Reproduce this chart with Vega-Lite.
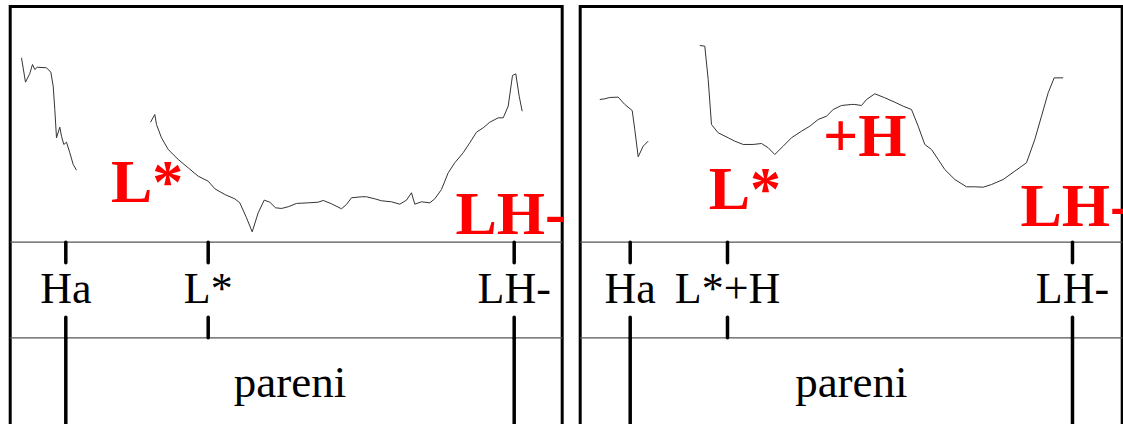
{
  "$schema": "https://vega.github.io/schema/vega-lite/v6.json",
  "background": "white",
  "padding": {"left": 7.2, "top": 4.5, "right": 0, "bottom": 0},
  "spacing": 18,
  "bounds": "flush",
  "config": {
    "view": {"stroke": "black", "strokeWidth": 3}
  },
  "datasets": {
    "pitchL": [
      {"t": 22.6, "f0": 284.7, "seg": 1}, {"t": 30.6, "f0": 253.7, "seg": 1}, {"t": 39.2, "f0": 264.7, "seg": 1},
      {"t": 44.6, "f0": 276.2, "seg": 1}, {"t": 49.2, "f0": 269.8, "seg": 1}, {"t": 54.0, "f0": 272.7, "seg": 1},
      {"t": 72.6, "f0": 272.0, "seg": 1}, {"t": 81.2, "f0": 266.4, "seg": 1}, {"t": 86.0, "f0": 248.6, "seg": 1},
      {"t": 89.2, "f0": 218.9, "seg": 1}, {"t": 92.6, "f0": 182.9, "seg": 1}, {"t": 99.2, "f0": 196.4, "seg": 1},
      {"t": 102.6, "f0": 184.9, "seg": 1}, {"t": 107.2, "f0": 174.4, "seg": 1}, {"t": 112.6, "f0": 177.3, "seg": 1},
      {"t": 119.2, "f0": 163.8, "seg": 1}, {"t": 126.0, "f0": 148.9, "seg": 1}, {"t": 132.6, "f0": 141.6, "seg": 1},
      {"t": 280.6, "f0": 202.7, "seg": 2}, {"t": 289.2, "f0": 212.5, "seg": 2}, {"t": 292.6, "f0": 199.8, "seg": 2},
      {"t": 302.6, "f0": 182.9, "seg": 2}, {"t": 316.0, "f0": 168.0, "seg": 2}, {"t": 336.0, "f0": 155.3, "seg": 2},
      {"t": 356.0, "f0": 144.7, "seg": 2}, {"t": 376.0, "f0": 134.0, "seg": 2}, {"t": 396.0, "f0": 127.6, "seg": 2},
      {"t": 409.2, "f0": 118.0, "seg": 2}, {"t": 429.2, "f0": 110.7, "seg": 2}, {"t": 449.2, "f0": 105.2, "seg": 2},
      {"t": 459.2, "f0": 100.1, "seg": 2}, {"t": 472.6, "f0": 81.1, "seg": 2}, {"t": 484.0, "f0": 63.2, "seg": 2},
      {"t": 496.0, "f0": 87.4, "seg": 2}, {"t": 508.0, "f0": 103.5, "seg": 2}, {"t": 519.2, "f0": 100.9, "seg": 2},
      {"t": 530.6, "f0": 93.8, "seg": 2}, {"t": 542.6, "f0": 92.9, "seg": 2}, {"t": 556.0, "f0": 95.1, "seg": 2},
      {"t": 572.6, "f0": 99.3, "seg": 2}, {"t": 596.0, "f0": 100.1, "seg": 2}, {"t": 616.0, "f0": 100.9, "seg": 2},
      {"t": 626.0, "f0": 103.1, "seg": 2}, {"t": 642.6, "f0": 98.9, "seg": 2}, {"t": 662.6, "f0": 92.5, "seg": 2},
      {"t": 672.6, "f0": 98.0, "seg": 2}, {"t": 682.6, "f0": 106.5, "seg": 2}, {"t": 702.6, "f0": 107.8, "seg": 2},
      {"t": 712.6, "f0": 107.8, "seg": 2}, {"t": 729.2, "f0": 105.2, "seg": 2}, {"t": 742.6, "f0": 102.7, "seg": 2},
      {"t": 762.6, "f0": 101.4, "seg": 2}, {"t": 779.2, "f0": 98.4, "seg": 2}, {"t": 792.6, "f0": 103.5, "seg": 2},
      {"t": 802.6, "f0": 112.9, "seg": 2}, {"t": 809.2, "f0": 98.4, "seg": 2}, {"t": 822.6, "f0": 101.4, "seg": 2},
      {"t": 839.2, "f0": 100.1, "seg": 2}, {"t": 849.2, "f0": 105.2, "seg": 2}, {"t": 862.6, "f0": 117.1, "seg": 2},
      {"t": 876.0, "f0": 138.3, "seg": 2}, {"t": 889.2, "f0": 151.1, "seg": 2}, {"t": 906.0, "f0": 163.8, "seg": 2},
      {"t": 919.2, "f0": 176.5, "seg": 2}, {"t": 932.6, "f0": 190.0, "seg": 2}, {"t": 946.0, "f0": 195.6, "seg": 2},
      {"t": 959.2, "f0": 202.7, "seg": 2}, {"t": 976.0, "f0": 208.3, "seg": 2}, {"t": 986.0, "f0": 208.3, "seg": 2},
      {"t": 996.0, "f0": 223.1, "seg": 2}, {"t": 1004.6, "f0": 262.2, "seg": 2}, {"t": 1011.2, "f0": 264.3, "seg": 2},
      {"t": 1018.0, "f0": 235.8, "seg": 2}, {"t": 1024.0, "f0": 216.7, "seg": 2}
    ],
    "pitchR": [
      {"t": 39.2, "f0": 231.6, "seg": 1}, {"t": 49.2, "f0": 232.5, "seg": 1}, {"t": 59.2, "f0": 234.2, "seg": 1},
      {"t": 76.0, "f0": 234.6, "seg": 1}, {"t": 89.2, "f0": 225.3, "seg": 1}, {"t": 104.0, "f0": 217.6, "seg": 1},
      {"t": 109.2, "f0": 193.4, "seg": 1}, {"t": 116.0, "f0": 158.7, "seg": 1}, {"t": 126.0, "f0": 172.2, "seg": 1},
      {"t": 136.0, "f0": 178.6, "seg": 1},
      {"t": 239.2, "f0": 300.4, "seg": 2}, {"t": 249.2, "f0": 299.5, "seg": 2}, {"t": 256.0, "f0": 257.1, "seg": 2},
      {"t": 262.6, "f0": 199.8, "seg": 2}, {"t": 276.0, "f0": 189.2, "seg": 2}, {"t": 296.0, "f0": 182.9, "seg": 2},
      {"t": 309.2, "f0": 178.6, "seg": 2}, {"t": 326.0, "f0": 174.4, "seg": 2}, {"t": 346.0, "f0": 174.4, "seg": 2},
      {"t": 362.6, "f0": 175.6, "seg": 2}, {"t": 376.0, "f0": 170.2, "seg": 2}, {"t": 389.2, "f0": 161.6, "seg": 2},
      {"t": 406.0, "f0": 172.2, "seg": 2}, {"t": 422.6, "f0": 182.9, "seg": 2}, {"t": 442.6, "f0": 191.3, "seg": 2},
      {"t": 459.2, "f0": 197.6, "seg": 2}, {"t": 476.0, "f0": 206.2, "seg": 2}, {"t": 492.6, "f0": 210.4, "seg": 2},
      {"t": 506.0, "f0": 218.9, "seg": 2}, {"t": 522.6, "f0": 224.0, "seg": 2}, {"t": 542.6, "f0": 225.3, "seg": 2},
      {"t": 549.2, "f0": 225.3, "seg": 2}, {"t": 562.6, "f0": 224.0, "seg": 2}, {"t": 572.6, "f0": 231.6, "seg": 2},
      {"t": 589.2, "f0": 238.9, "seg": 2}, {"t": 609.2, "f0": 233.8, "seg": 2}, {"t": 629.2, "f0": 228.2, "seg": 2},
      {"t": 646.0, "f0": 223.1, "seg": 2}, {"t": 662.6, "f0": 218.9, "seg": 2}, {"t": 676.0, "f0": 197.6, "seg": 2},
      {"t": 689.2, "f0": 174.4, "seg": 2}, {"t": 702.6, "f0": 168.0, "seg": 2}, {"t": 716.0, "f0": 155.3, "seg": 2},
      {"t": 729.2, "f0": 142.5, "seg": 2}, {"t": 749.2, "f0": 129.8, "seg": 2}, {"t": 772.6, "f0": 120.5, "seg": 2},
      {"t": 789.2, "f0": 120.5, "seg": 2}, {"t": 806.0, "f0": 120.0, "seg": 2}, {"t": 822.6, "f0": 123.4, "seg": 2},
      {"t": 846.0, "f0": 129.8, "seg": 2}, {"t": 869.2, "f0": 140.4, "seg": 2}, {"t": 892.6, "f0": 151.1, "seg": 2},
      {"t": 909.2, "f0": 180.7, "seg": 2}, {"t": 922.6, "f0": 210.4, "seg": 2}, {"t": 936.0, "f0": 240.2, "seg": 2},
      {"t": 948.0, "f0": 259.2, "seg": 2}, {"t": 966.0, "f0": 259.2, "seg": 2}
    ],
    "tierLines": [{"tier": "tones", "bottom": 50}, {"tier": "words", "bottom": -71.7}],
    "tonesL": [
      {"t": 111.2, "label": "Ha", "boundary": true},
      {"t": 396.0, "label": "L*", "boundary": false},
      {"t": 1008.0, "label": "LH-", "boundary": true}
    ],
    "tonesR": [
      {"t": 100.0, "label": "Ha", "boundary": true},
      {"t": 294.6, "label": "L*+H", "boundary": false},
      {"t": 984.6, "label": "LH-", "boundary": true}
    ],
    "wordsL": [{"t": 559.6, "label": "pareni"}],
    "wordsR": [{"t": 542.3, "label": "pareni"}],
    "accentsL": [
      {"t": 201.6, "f0": 100.9, "label": "L*"},
      {"t": 890.6, "f0": 59.8, "label": "LH-"}
    ],
    "accentsR": [
      {"t": 257.0, "f0": 92.5, "label": "L*"},
      {"t": 485.6, "f0": 159.5, "label": "+H"},
      {"t": 880.6, "f0": 70.4, "label": "LH-"}
    ]
  },
  "hconcat": [
    {
      "width": 552,
      "height": 428,
      "layer": [
        {
          "data": {"name": "pitchL"},
          "mark": {"type": "line", "color": "#333333", "strokeWidth": 1},
          "encoding": {
            "x": {"field": "t", "type": "quantitative", "axis": null,
                  "scale": {"domain": [0, 1104], "nice": false, "zero": false}},
            "y": {"field": "f0", "type": "quantitative", "axis": null,
                  "scale": {"domain": [-194.8, 350], "nice": false, "zero": false}},
            "detail": {"field": "seg", "type": "nominal"}
          }
        },
        {
          "data": {"name": "tierLines"},
          "mark": {"type": "rule", "color": "#555555", "strokeWidth": 1.3},
          "encoding": {
            "y": {"field": "bottom", "type": "quantitative"}
          }
        },
        {
          "data": {"name": "tonesL"},
          "mark": {"type": "rule", "color": "black", "strokeWidth": 3.5, "strokeCap": "round"},
          "encoding": {
            "x": {"field": "t", "type": "quantitative"},
            "y": {"datum": 50, "type": "quantitative"},
            "y2": {"datum": 23.8}
          }
        },
        {
          "data": {"name": "tonesL"},
          "mark": {"type": "rule", "color": "black", "strokeWidth": 3.5, "strokeCap": "round"},
          "encoding": {
            "x": {"field": "t", "type": "quantitative"},
            "y": {"datum": -45.5, "type": "quantitative"},
            "y2": {"datum": -71.7}
          }
        },
        {
          "data": {"name": "tonesL"},
          "transform": [{"filter": "datum.boundary"}],
          "mark": {"type": "rule", "color": "black", "strokeWidth": 3.5},
          "encoding": {
            "x": {"field": "t", "type": "quantitative"},
            "y": {"datum": -71.7, "type": "quantitative"},
            "y2": {"datum": -194.8}
          }
        },
        {
          "data": {"name": "tonesL"},
          "mark": {"type": "text", "font": "Liberation Serif", "fontSize": 44, "align": "center", "baseline": "alphabetic", "color": "black"},
          "encoding": {
            "x": {"field": "t", "type": "quantitative"},
            "y": {"datum": -27.1, "type": "quantitative"},
            "text": {"field": "label"}
          }
        },
        {
          "data": {"name": "wordsL"},
          "mark": {"type": "text", "font": "Liberation Serif", "fontSize": 45, "align": "center", "baseline": "alphabetic", "color": "black"},
          "encoding": {
            "x": {"field": "t", "type": "quantitative"},
            "y": {"datum": -147.6, "type": "quantitative"},
            "text": {"field": "label"}
          }
        },
        {
          "data": {"name": "accentsL"},
          "mark": {"type": "text", "font": "Liberation Serif", "fontSize": 62, "fontWeight": "bold", "align": "left", "baseline": "alphabetic", "color": "#ff0000"},
          "encoding": {
            "x": {"field": "t", "type": "quantitative"},
            "y": {"field": "f0", "type": "quantitative"},
            "text": {"field": "label"}
          }
        }
      ]
    },
    {
      "width": 542,
      "height": 428,
      "layer": [
        {
          "data": {"name": "pitchR"},
          "mark": {"type": "line", "color": "#333333", "strokeWidth": 1},
          "encoding": {
            "x": {"field": "t", "type": "quantitative", "axis": null,
                  "scale": {"domain": [0, 1084], "nice": false, "zero": false}},
            "y": {"field": "f0", "type": "quantitative", "axis": null,
                  "scale": {"domain": [-194.8, 350], "nice": false, "zero": false}},
            "detail": {"field": "seg", "type": "nominal"}
          }
        },
        {
          "data": {"name": "tierLines"},
          "mark": {"type": "rule", "color": "#555555", "strokeWidth": 1.3},
          "encoding": {
            "y": {"field": "bottom", "type": "quantitative"}
          }
        },
        {
          "data": {"name": "tonesR"},
          "mark": {"type": "rule", "color": "black", "strokeWidth": 3.5, "strokeCap": "round"},
          "encoding": {
            "x": {"field": "t", "type": "quantitative"},
            "y": {"datum": 50, "type": "quantitative"},
            "y2": {"datum": 23.8}
          }
        },
        {
          "data": {"name": "tonesR"},
          "mark": {"type": "rule", "color": "black", "strokeWidth": 3.5, "strokeCap": "round"},
          "encoding": {
            "x": {"field": "t", "type": "quantitative"},
            "y": {"datum": -45.5, "type": "quantitative"},
            "y2": {"datum": -71.7}
          }
        },
        {
          "data": {"name": "tonesR"},
          "transform": [{"filter": "datum.boundary"}],
          "mark": {"type": "rule", "color": "black", "strokeWidth": 3.5},
          "encoding": {
            "x": {"field": "t", "type": "quantitative"},
            "y": {"datum": -71.7, "type": "quantitative"},
            "y2": {"datum": -194.8}
          }
        },
        {
          "data": {"name": "tonesR"},
          "mark": {"type": "text", "font": "Liberation Serif", "fontSize": 44, "align": "center", "baseline": "alphabetic", "color": "black"},
          "encoding": {
            "x": {"field": "t", "type": "quantitative"},
            "y": {"datum": -27.1, "type": "quantitative"},
            "text": {"field": "label"}
          }
        },
        {
          "data": {"name": "wordsR"},
          "mark": {"type": "text", "font": "Liberation Serif", "fontSize": 45, "align": "center", "baseline": "alphabetic", "color": "black"},
          "encoding": {
            "x": {"field": "t", "type": "quantitative"},
            "y": {"datum": -147.6, "type": "quantitative"},
            "text": {"field": "label"}
          }
        },
        {
          "data": {"name": "accentsR"},
          "mark": {"type": "text", "font": "Liberation Serif", "fontSize": 62, "fontWeight": "bold", "align": "left", "baseline": "alphabetic", "color": "#ff0000"},
          "encoding": {
            "x": {"field": "t", "type": "quantitative"},
            "y": {"field": "f0", "type": "quantitative"},
            "text": {"field": "label"}
          }
        }
      ]
    }
  ]
}
